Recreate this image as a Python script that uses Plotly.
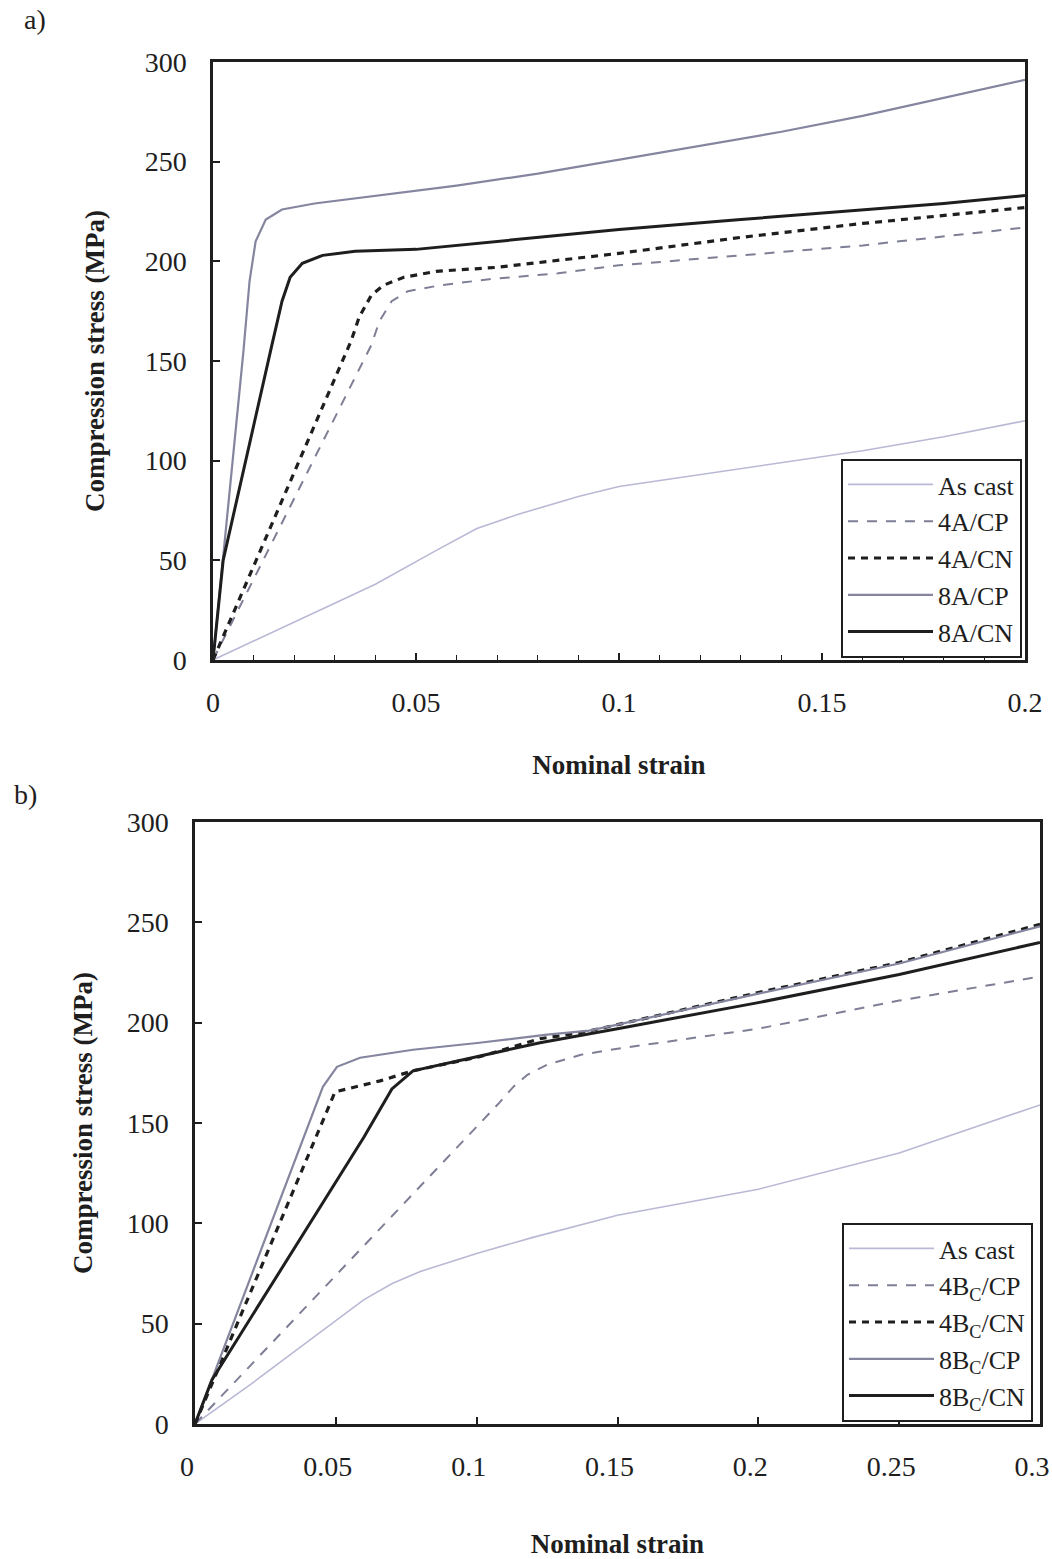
import plotly.graph_objects as go

# ---------------- Panel a data ----------------
a_ascast_x = [0, 0.02, 0.04, 0.055, 0.065, 0.075, 0.09, 0.1, 0.12, 0.14, 0.16, 0.18, 0.2]
a_ascast_y = [0, 19, 38, 55, 66, 73, 82, 87, 93, 99, 105, 112, 120]

a_4cp_x = [0, 0.039, 0.041, 0.044, 0.048, 0.056, 0.068, 0.085, 0.1, 0.13, 0.16, 0.2]
a_4cp_y = [0, 158, 170, 180, 185, 188, 191, 194, 198, 203, 208, 217]

a_4cn_x = [0, 0.034, 0.036, 0.039, 0.042, 0.047, 0.055, 0.07, 0.1, 0.13, 0.16, 0.2]
a_4cn_y = [0, 160, 172, 183, 188, 192, 195, 197, 204, 212, 219, 227]

a_8cp_x = [0, 0.0075, 0.009, 0.0105, 0.013, 0.017, 0.025, 0.04, 0.06, 0.08, 0.1, 0.12, 0.14, 0.16, 0.18, 0.2]
a_8cp_y = [0, 155, 190, 210, 221, 226, 229, 233, 238, 244, 251, 258, 265, 273, 282, 291]

a_8cn_x = [0, 0.0025, 0.0145, 0.017, 0.019, 0.022, 0.027, 0.035, 0.05, 0.07, 0.1, 0.13, 0.16, 0.18, 0.2]
a_8cn_y = [0, 50, 158, 180, 192, 199, 203, 205, 206, 210, 216, 221, 226, 229, 233]

# ---------------- Panel b data ----------------
b_ascast_x = [0, 0.02, 0.04, 0.06, 0.07, 0.08, 0.1, 0.12, 0.15, 0.2, 0.25, 0.3]
b_ascast_y = [0, 20, 41, 62, 70, 76, 85, 93, 104, 117, 135, 159]

b_4cp_x = [0, 0.1, 0.108, 0.113, 0.118, 0.125, 0.137, 0.15, 0.175, 0.2, 0.25, 0.3]
b_4cp_y = [0, 148, 160, 168, 174, 179, 184, 187, 192, 197, 211, 223]

b_4cn_x = [0, 0.0454, 0.0497, 0.0657, 0.0774, 0.101, 0.1225, 0.137, 0.15, 0.2, 0.25, 0.3]
b_4cn_y = [0, 151.5, 165.5, 171, 176, 183, 192, 195, 199, 215, 230, 249]

b_8cp_x = [0, 0.0408, 0.0454, 0.0504, 0.0586, 0.0774, 0.101, 0.125, 0.14, 0.15, 0.2, 0.25, 0.3]
b_8cp_y = [0, 151.5, 168, 178, 182.5, 186.5, 190, 194, 196, 199, 214.5, 229.5, 248]

b_8cn_x = [0, 0.006, 0.06, 0.0699, 0.0774, 0.1, 0.1225, 0.15, 0.2, 0.25, 0.3]
b_8cn_y = [0, 22, 143, 167, 176, 183, 190, 197, 210, 224, 240]

a_names = ["As cast", "4A/CP", "4A/CN", "8A/CP", "8A/CN"]
b_names = ["As cast", "4B<sub>C</sub>/CP", "4B<sub>C</sub>/CN", "8B<sub>C</sub>/CP", "8B<sub>C</sub>/CN"]

y_ticks = [0, 50, 100, 150, 200, 250, 300]
a_xticks = [0, 0.05, 0.1, 0.15, 0.2]
a_xlabels = ["0", "0.05", "0.1", "0.15", "0.2"]
b_xticks = [0, 0.05, 0.1, 0.15, 0.2, 0.25, 0.3]
b_xlabels = ["0", "0.05", "0.1", "0.15", "0.2", "0.25", "0.3"]

FONT = "Liberation Serif"
INK = "#1e1e1e"
styles = [
    dict(color="#b9b9d6", width=1.6, dash="solid"),
    dict(color="#7e7e96", width=2.0, dash="10px,9px"),
    dict(color="#1e1e1e", width=3.2, dash="7px,6px"),
    dict(color="#85859f", width=2.2, dash="solid"),
    dict(color="#1e1e1e", width=3.0, dash="solid"),
]

fig = go.Figure()

a_data = [(a_ascast_x, a_ascast_y), (a_4cp_x, a_4cp_y), (a_4cn_x, a_4cn_y),
          (a_8cp_x, a_8cp_y), (a_8cn_x, a_8cn_y)]
b_data = [(b_ascast_x, b_ascast_y), (b_4cp_x, b_4cp_y), (b_4cn_x, b_4cn_y),
          (b_8cp_x, b_8cp_y), (b_8cn_x, b_8cn_y)]

for (xs, ys), nm, st in zip(a_data, a_names, styles):
    fig.add_trace(go.Scatter(x=xs, y=ys, mode="lines", name=nm, line=st,
                             xaxis="x", yaxis="y", legend="legend"))
for (xs, ys), nm, st in zip(b_data, b_names, styles):
    fig.add_trace(go.Scatter(x=xs, y=ys, mode="lines", name=nm, line=st,
                             xaxis="x2", yaxis="y2", legend="legend2"))

W, H = 1052, 1559
def px_x(p):
    return p / W
def px_y(p):
    return 1 - p / H

tickfont = dict(family=FONT, size=28, color=INK)
titlefont = dict(family=FONT, size=27, color=INK, weight="bold")

common_axis = dict(showline=True, linecolor=INK, linewidth=2.5, mirror=True,
                   showgrid=False, zeroline=False, ticks="inside", ticklen=7,
                   tickcolor=INK, tickwidth=1.5, tickfont=tickfont,
                   automargin=False, ticklabeloverflow="allow")

legend_common = dict(bgcolor="white", bordercolor=INK, borderwidth=2,
                     font=dict(family=FONT, size=26, color=INK), itemwidth=85,
                     tracegroupgap=0)

fig.update_layout(
    width=W, height=H,
    margin=dict(l=0, r=0, t=0, b=0, autoexpand=False),
    paper_bgcolor="white", plot_bgcolor="white",
    font=dict(family=FONT, color=INK),
    xaxis=dict(domain=[px_x(213), px_x(1025)], range=[0, 0.2], anchor="y",
               tickvals=a_xticks, ticktext=a_xlabels, ticklabelstandoff=16,
               minor=dict(dtick=0.01, ticks="inside", ticklen=5, tickcolor=INK, tickwidth=1.2),
               title=dict(text="Nominal strain", font=titlefont, standoff=38),
               **common_axis),
    yaxis=dict(domain=[px_y(660), px_y(62)], range=[0, 300], anchor="x",
               tickvals=y_ticks, ticklabelstandoff=18,
               title=dict(text="Compression stress (MPa)", font=titlefont, standoff=33),
               **common_axis),
    xaxis2=dict(domain=[px_x(195), px_x(1040)], range=[0, 0.3], anchor="y2",
                tickvals=b_xticks, ticktext=b_xlabels, ticklabelstandoff=16,
                ticklabelshift=-8,
                title=dict(text="Nominal strain", font=titlefont, standoff=57),
                **common_axis),
    yaxis2=dict(domain=[px_y(1424), px_y(822)], range=[0, 300], anchor="x2",
                tickvals=y_ticks, ticklabelstandoff=18,
                title=dict(text="Compression stress (MPa)", font=titlefont, standoff=27),
                **common_axis),
    legend=dict(x=px_x(1022), xanchor="right", y=px_y(658), yanchor="bottom",
                **legend_common),
    legend2=dict(x=px_x(1033), xanchor="right", y=px_y(1422), yanchor="bottom",
                 **legend_common),
    showlegend=True,
    annotations=[
        dict(text="a)", x=px_x(22), y=px_y(20), xref="paper", yref="paper",
             xanchor="left", yanchor="middle", showarrow=False,
             font=dict(family=FONT, size=28, color=INK)),
        dict(text="b)", x=px_x(12), y=px_y(795), xref="paper", yref="paper",
             xanchor="left", yanchor="middle", showarrow=False,
             font=dict(family=FONT, size=28, color=INK)),
    ],
)

fig.write_html("out.html")
